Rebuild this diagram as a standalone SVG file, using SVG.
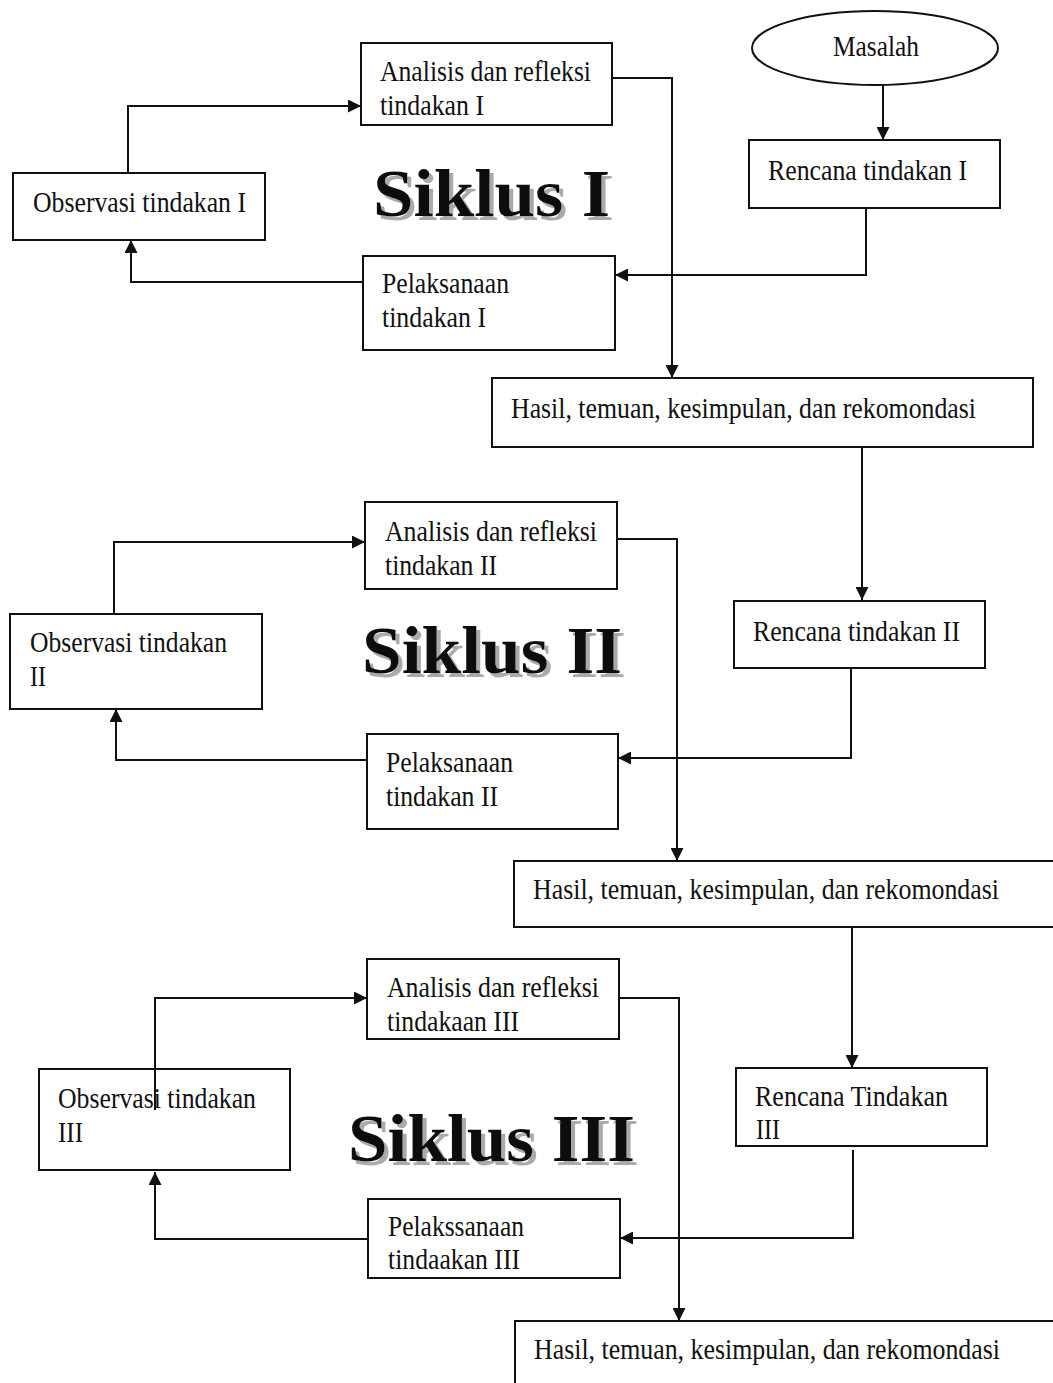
<svg xmlns="http://www.w3.org/2000/svg" width="1053" height="1383" viewBox="0 0 1053 1383">
<defs>
<marker id="ah" viewBox="0 0 10 10" refX="10" refY="5" markerWidth="13" markerHeight="13" markerUnits="userSpaceOnUse" orient="auto">
<path d="M0,0 L10,5 L0,10 z" fill="#111"/>
</marker>
<filter id="shadow" x="-10%" y="-20%" width="130%" height="150%">
<feOffset in="SourceAlpha" dx="4" dy="4" result="off"/>
<feFlood flood-color="#aaaaaa"/>
<feComposite in2="off" operator="in" result="sh"/>
<feMerge><feMergeNode in="sh"/><feMergeNode in="SourceGraphic"/></feMerge>
</filter>
</defs>
<style>
.box{fill:#fff;stroke:#111;stroke-width:2}
.t{font-family:"Liberation Serif","Times New Roman",serif;font-size:29px;fill:#111}
.big{font-family:"Liberation Serif","Times New Roman",serif;font-weight:bold;font-size:68px;fill:#111;filter:url(#shadow)}
.c{fill:none;stroke:#111;stroke-width:2}
</style>
<rect width="1053" height="1383" fill="#fff"/>

<g id="connectors">
<path class="c" d="M883,85 V140" marker-end="url(#ah)"/>
<path class="c" d="M128,173 V106 H361" marker-end="url(#ah)"/>
<path class="c" d="M612,78 H672 V378" marker-end="url(#ah)"/>
<path class="c" d="M866,208 V275 H615" marker-end="url(#ah)"/>
<path class="c" d="M363,282 H131 V240" marker-end="url(#ah)"/>
<path class="c" d="M862,447 V600" marker-end="url(#ah)"/>
<path class="c" d="M114,614 V542 H365" marker-end="url(#ah)"/>
<path class="c" d="M617,539 H677 V861" marker-end="url(#ah)"/>
<path class="c" d="M851,668 V758 H618" marker-end="url(#ah)"/>
<path class="c" d="M367,760 H116 V709" marker-end="url(#ah)"/>
<path class="c" d="M852,927 V1068" marker-end="url(#ah)"/>
<path class="c" d="M619,998 H679 V1321" marker-end="url(#ah)"/>
<path class="c" d="M853,1150 V1238 H620" marker-end="url(#ah)"/>
<path class="c" d="M368,1239 H155 V1172" marker-end="url(#ah)"/>
</g>

<g id="masalah">
<ellipse class="box" cx="875" cy="48" rx="123" ry="37"/>
<text class="t" x="833" y="56" textLength="86" lengthAdjust="spacingAndGlyphs">Masalah</text>
</g>
<g id="rencana1">
<rect class="box" x="749" y="140" width="251" height="68"/>
<text class="t" x="768" y="180" textLength="199" lengthAdjust="spacingAndGlyphs">Rencana tindakan I</text>
</g>
<g id="analisis1">
<rect class="box" x="361" y="43" width="251" height="82"/>
<text class="t" x="380" y="81" textLength="211" lengthAdjust="spacingAndGlyphs">Analisis dan refleksi</text>
<text class="t" x="380" y="115" textLength="104" lengthAdjust="spacingAndGlyphs">tindakan I</text>
</g>
<g id="observasi1">
<rect class="box" x="13" y="173" width="252" height="67"/>
<text class="t" x="33" y="212" textLength="213" lengthAdjust="spacingAndGlyphs">Observasi tindakan I</text>
</g>
<g id="pelaksanaan1">
<rect class="box" x="363" y="256" width="252" height="94"/>
<text class="t" x="382" y="293" textLength="127" lengthAdjust="spacingAndGlyphs">Pelaksanaan</text>
<text class="t" x="382" y="327" textLength="104" lengthAdjust="spacingAndGlyphs">tindakan I</text>
</g>
<g id="siklus1">
<text class="big" x="373" y="216" textLength="237" lengthAdjust="spacingAndGlyphs">Siklus I</text>
</g>
<g id="hasil1">
<rect class="box" x="492" y="378" width="541" height="69"/>
<text class="t" x="511" y="418" textLength="465" lengthAdjust="spacingAndGlyphs">Hasil, temuan, kesimpulan, dan rekomondasi</text>
</g>

<g id="analisis2">
<rect class="box" x="365" y="502" width="252" height="87"/>
<text class="t" x="385" y="541" textLength="212" lengthAdjust="spacingAndGlyphs">Analisis dan refleksi</text>
<text class="t" x="385" y="575" textLength="112" lengthAdjust="spacingAndGlyphs">tindakan II</text>
</g>
<g id="observasi2">
<rect class="box" x="10" y="614" width="252" height="95"/>
<text class="t" x="30" y="652" textLength="197" lengthAdjust="spacingAndGlyphs">Observasi tindakan</text>
<text class="t" x="30" y="686" textLength="16" lengthAdjust="spacingAndGlyphs">II</text>
</g>
<g id="rencana2">
<rect class="box" x="734" y="601" width="251" height="67"/>
<text class="t" x="753" y="641" textLength="207" lengthAdjust="spacingAndGlyphs">Rencana tindakan II</text>
</g>
<g id="pelaksanaan2">
<rect class="box" x="367" y="734" width="251" height="95"/>
<text class="t" x="386" y="772" textLength="127" lengthAdjust="spacingAndGlyphs">Pelaksanaan</text>
<text class="t" x="386" y="806" textLength="112" lengthAdjust="spacingAndGlyphs">tindakan II</text>
</g>
<g id="siklus2">
<text class="big" x="362" y="673" textLength="260" lengthAdjust="spacingAndGlyphs">Siklus II</text>
</g>
<g id="hasil2">
<rect class="box" x="514" y="861" width="560" height="66"/>
<text class="t" x="533" y="899" textLength="466" lengthAdjust="spacingAndGlyphs">Hasil, temuan, kesimpulan, dan rekomondasi</text>
</g>

<g id="analisis3">
<rect class="box" x="367" y="959" width="252" height="80"/>
<text class="t" x="387" y="997" textLength="212" lengthAdjust="spacingAndGlyphs">Analisis dan refleksi</text>
<text class="t" x="387" y="1031" textLength="132" lengthAdjust="spacingAndGlyphs">tindakaan III</text>
</g>
<g id="observasi3">
<rect class="box" x="39" y="1069" width="251" height="101"/>
<text class="t" x="58" y="1108" textLength="198" lengthAdjust="spacingAndGlyphs">Observasi tindakan</text>
<text class="t" x="58" y="1142" textLength="25" lengthAdjust="spacingAndGlyphs">III</text>
</g>
<g id="rencana3">
<rect class="box" x="736" y="1068" width="251" height="78"/>
<text class="t" x="755" y="1106" textLength="193" lengthAdjust="spacingAndGlyphs">Rencana Tindakan</text>
<text class="t" x="756" y="1139" textLength="24" lengthAdjust="spacingAndGlyphs">III</text>
</g>
<g id="pelaksanaan3">
<rect class="box" x="368" y="1199" width="252" height="79"/>
<text class="t" x="388" y="1236" textLength="136" lengthAdjust="spacingAndGlyphs">Pelakssanaan</text>
<text class="t" x="388" y="1269" textLength="132" lengthAdjust="spacingAndGlyphs">tindaakan III</text>
</g>
<g id="siklus3">
<text class="big" x="348" y="1161" textLength="287" lengthAdjust="spacingAndGlyphs">Siklus III</text>
</g>
<g id="hasil3">
<rect class="box" x="515" y="1321" width="560" height="80"/>
<text class="t" x="534" y="1359" textLength="466" lengthAdjust="spacingAndGlyphs">Hasil, temuan, kesimpulan, dan rekomondasi</text>
</g>
<g id="connectors-over">
<path class="c" d="M155,1110 V998 H367" marker-end="url(#ah)"/>
</g>
</svg>
